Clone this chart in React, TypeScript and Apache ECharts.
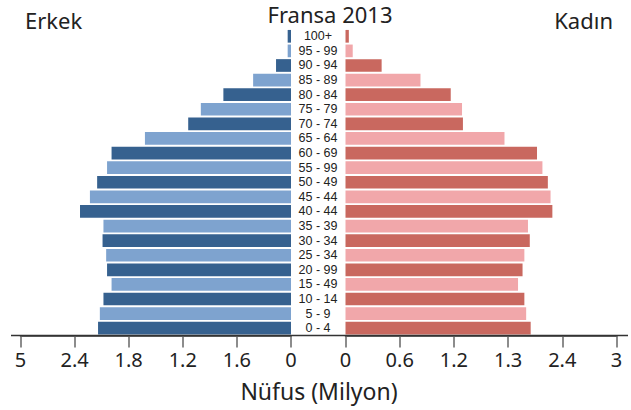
import React, { useEffect, useRef } from "react";
import * as echarts from "echarts";

// Age groups, top to bottom (as printed)
const ageGroups = [
  "100+", "95 - 99", "90 - 94", "85 - 89", "80 - 84", "75 - 79", "70 - 74",
  "65 - 64", "60 - 69", "55 - 99", "50 - 49", "45 - 44", "40 - 44", "35 - 39",
  "30 - 34", "25 - 34", "20 - 99", "15 - 49", "10 - 14", "5 - 9", "0 - 4",
];
// Population in millions, top to bottom
const maleValues = [
  0.037, 0.037, 0.166, 0.42, 0.75, 1.0, 1.14, 1.62, 1.99, 2.04, 2.15, 2.23,
  2.34, 2.08, 2.09, 2.05, 2.04, 1.99, 2.08, 2.12, 2.14,
];
const femaleValues = [
  0.037, 0.08, 0.40, 0.83, 1.165, 1.29, 1.30, 1.76, 2.12, 2.18, 2.24, 2.27,
  2.29, 2.02, 2.04, 1.98, 1.96, 1.91, 1.98, 2.0, 2.05,
];
// Tick labels as printed, for values 0, 0.6, 1.2, 1.8, 2.4, 3
const maleTickLabels = ["0", "1.6", "1.2", "1.8", "2.4", "5"];
const femaleTickLabels = ["0", "0.6", "1.2", "1.3", "2.4", "3"];

const titleText = "Fransa 2013";
const leftLabel = "Erkek";
const rightLabel = "Kadın";
const axisTitle = "Nüfus (Milyon)";

const FONT = "Noto Sans";
const LABEL_FONT = "Liberation Sans";
const TEXT = "#222";
const MALE_DARK = "#36618f";
const MALE_LIGHT = "#7ea3cf";
const FEMALE_DARK = "#c9685f";
const FEMALE_LIGHT = "#f1a7aa";

export default function App() {
  const ref = useRef<HTMLDivElement>(null);
  useEffect(() => {
    if (!ref.current) return;
    const chart = echarts.init(ref.current, null, { renderer: "svg" });
    const n = ageGroups.length;
    const colorFor = (i: number, dark: string, light: string) =>
      (n - 1 - i) % 2 === 0 ? dark : light;
    const tickFmt = (labels: string[]) => (v: number) => {
      const idx = Math.round(v / 0.6);
      return labels[idx] ?? "";
    };
    const axisCommon = {
      type: "value" as const,
      min: 0,
      max: 3,
      interval: 0.6,
      splitLine: { show: false },
      axisLine: { show: true, lineStyle: { color: "#333", width: 1.5 } },
      axisTick: { show: true, length: 12, lineStyle: { color: "#666", width: 1.5 } },
    };
    chart.setOption({
      animation: false,
      backgroundColor: "#fff",
      textStyle: { fontFamily: FONT },
      grid: [
        { left: 20.5, width: 270.5, top: 29, height: 306.5, containLabel: false },
        { left: 345.5, width: 271, top: 29, height: 306.5, containLabel: false },
      ],
      xAxis: [
        {
          ...axisCommon,
          gridIndex: 0,
          inverse: true,
          axisLabel: {
            formatter: tickFmt(maleTickLabels),
            fontSize: 20,
            color: TEXT,
            fontFamily: FONT,
            margin: 14,
          },
        },
        {
          ...axisCommon,
          gridIndex: 1,
          axisLabel: {
            formatter: tickFmt(femaleTickLabels),
            fontSize: 20,
            color: TEXT,
            fontFamily: FONT,
            margin: 14,
          },
        },
      ],
      yAxis: [
        {
          type: "category",
          gridIndex: 0,
          data: ageGroups,
          inverse: true,
          position: "right",
          axisLine: { show: false },
          axisTick: { show: false },
          axisLabel: { show: false },
        },
        {
          type: "category",
          gridIndex: 1,
          data: ageGroups,
          inverse: true,
          position: "left",
          axisLine: { show: false },
          axisTick: { show: false },
          axisLabel: {
            show: true,
            interval: 0,
            align: "center",
            margin: 27.5,
            fontSize: 12.5,
            lineHeight: 13,
            color: TEXT,
            fontFamily: LABEL_FONT,
          },
        },
      ],
      series: [
        {
          type: "bar",
          xAxisIndex: 0,
          yAxisIndex: 0,
          barCategoryGap: "13%",
          data: maleValues.map((v, i) => ({
            value: v,
            itemStyle: { color: colorFor(i, MALE_DARK, MALE_LIGHT) },
          })),
        },
        {
          type: "bar",
          xAxisIndex: 1,
          yAxisIndex: 1,
          barCategoryGap: "13%",
          data: femaleValues.map((v, i) => ({
            value: v,
            itemStyle: { color: colorFor(i, FEMALE_DARK, FEMALE_LIGHT) },
          })),
        },
      ],
      graphic: [
        {
          type: "line",
          z: 10,
          shape: { x1: 11, y1: 335.5, x2: 628, y2: 335.5 },
          style: { stroke: "#333", lineWidth: 1.5 },
        },
        {
          type: "text",
          x: 330,
          y: 14,
          style: {
            text: titleText,
            fontSize: 22,
            fill: TEXT,
            fontFamily: FONT,
            align: "center",
            verticalAlign: "middle",
          },
        },
        {
          type: "text",
          x: 25,
          y: 20,
          style: {
            text: leftLabel,
            fontSize: 22,
            fill: TEXT,
            fontFamily: FONT,
            align: "left",
            verticalAlign: "middle",
          },
        },
        {
          type: "text",
          x: 613,
          y: 20,
          style: {
            text: rightLabel,
            fontSize: 22,
            fill: TEXT,
            fontFamily: FONT,
            align: "right",
            verticalAlign: "middle",
          },
        },
        {
          type: "text",
          x: 319,
          y: 391,
          style: {
            text: axisTitle,
            fontSize: 23,
            fill: TEXT,
            fontFamily: FONT,
            align: "center",
            verticalAlign: "middle",
          },
        },
      ],
    });
    return () => chart.dispose();
  }, []);
  return (
    <div
      ref={ref}
      style={{ width: 631, height: 410, position: "absolute", left: 0, top: 0 }}
    />
  );
}
